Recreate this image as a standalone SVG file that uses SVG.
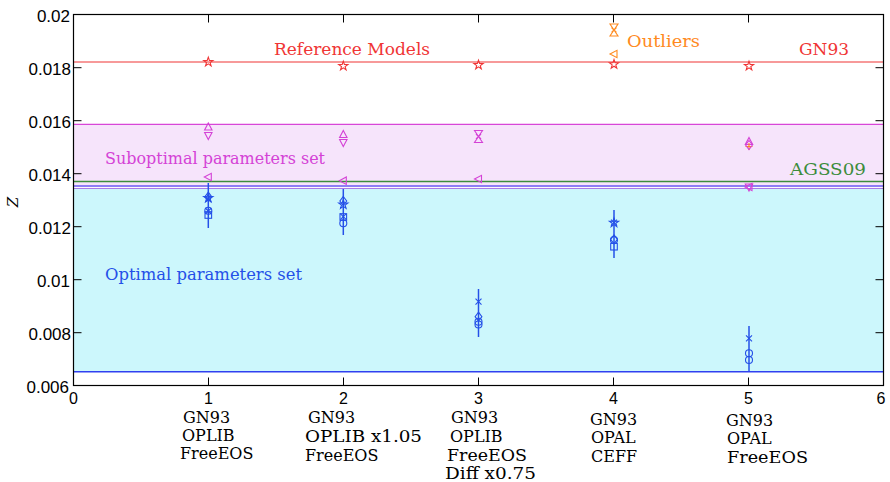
<svg xmlns="http://www.w3.org/2000/svg" xmlns:xlink="http://www.w3.org/1999/xlink" width="890" height="482" viewBox="0 0 890 482">
  <style>
    .ax { font-family: "Liberation Sans", Arial, sans-serif; font-size: 17px; fill: #000; }
    .xt { font-family: "Liberation Sans", Arial, sans-serif; font-size: 16px; fill: #000; }
    .cat { font-family: "DejaVu Serif", "Liberation Serif", serif; font-size: 16px; fill: #000; }
    .lbl { font-family: "DejaVu Serif", "Liberation Serif", serif; font-size: 17px; }
    .mk { fill: none; stroke-width: 1.1; }
    .red { stroke: #f03535; }
    .mag { stroke: #d442d6; }
    .org { stroke: #ff8a1e; }
    .blu { stroke: #2450e8; }
    .tick { stroke: #000; stroke-width: 1; }
  </style>
  <defs>
    <path id="star" d="M0,-4.8 L1.1,-1.5 L4.6,-1.5 L1.8,0.6 L2.8,3.9 L0,1.9 L-2.8,3.9 L-1.8,0.6 L-4.6,-1.5 L-1.1,-1.5Z"/>
    <path id="triU" d="M0,-4 L3.7,3 L-3.7,3Z"/>
    <path id="triD" d="M0,4 L3.7,-3 L-3.7,-3Z"/>
    <path id="triL" d="M-4,0 L3,-3.7 L3,3.7Z"/>
    <path id="dia" d="M0,-4.5 L3.4,0 L0,4.5 L-3.4,0Z"/>
    <circle id="cir" r="3.5"/>
    <rect id="sq" x="-3.3" y="-3.3" width="6.6" height="6.6"/>
    <path id="xx" d="M-3,-3 L3,3 M-3,3 L3,-3"/>
    <path id="pl" d="M-3.5,0 L3.5,0 M0,-3.5 L0,3.5"/>
    <!-- hourglass: downward triangle above an upward one -->
    <path id="hg" d="M-4,-6 L4,-6 L0,0Z M-4,6 L4,6 L0,0Z M-2.5,-2.5 L2.5,2.5 M-2.5,2.5 L2.5,-2.5"/>
  </defs>

  <!-- parameter bands -->
  <g id="bands">
    <rect x="73.5" y="124.3" width="810" height="63" fill="#f6e4fb"/>
    <rect x="73.5" y="189" width="810" height="182.7" fill="#ccf7fc"/>
    <line x1="73.5" y1="124.3" x2="883.5" y2="124.3" stroke="#d846d8" stroke-width="1.2"/>
    <line x1="73.5" y1="181.5" x2="883.5" y2="181.5" stroke="#3c8c3c" stroke-width="1.3"/>
    <line x1="73.5" y1="186" x2="883.5" y2="186" stroke="#6a5cf2" stroke-width="1.4"/>
    <line x1="73.5" y1="188.5" x2="883.5" y2="188.5" stroke="#a87be6" stroke-width="1.1"/>
    <line x1="73.5" y1="371.7" x2="883.5" y2="371.7" stroke="#3040f0" stroke-width="1.4"/>
    <line x1="73.5" y1="62" x2="883.5" y2="62" stroke="#f03535" stroke-width="1.2"/>
  </g>

  <!-- axes frame and ticks -->
  <g id="axes">
    <rect x="73.5" y="14.5" width="810" height="371" fill="none" stroke="#000" stroke-width="1.2"/>
    <path class="tick" d="M73.5,67.7h8 M73.5,120.7h8 M73.5,173.7h8 M73.5,226.7h8 M73.5,279.7h8 M73.5,332.7h8
      M883.5,67.7h-8 M883.5,120.7h-8 M883.5,173.7h-8 M883.5,226.7h-8 M883.5,279.7h-8 M883.5,332.7h-8
      M208.5,14.5v8 M343.5,14.5v8 M478.5,14.5v8 M613.5,14.5v8 M748.5,14.5v8
      M208.5,385.5v-8 M343.5,385.5v-8 M478.5,385.5v-8 M613.5,385.5v-8 M748.5,385.5v-8"/>
    <g class="ax" text-anchor="end">
      <text x="70" y="21.5">0.02</text>
      <text x="71" y="74.5">0.018</text>
      <text x="71" y="127.5">0.016</text>
      <text x="71" y="180.5">0.014</text>
      <text x="71" y="233.5">0.012</text>
      <text x="70" y="286.5">0.01</text>
      <text x="71" y="339.5">0.008</text>
      <text x="69" y="392.5">0.006</text>
    </g>
    <g class="xt" text-anchor="middle">
      <text x="73.5" y="404">0</text>
      <text x="208.5" y="404">1</text>
      <text x="343.5" y="404">2</text>
      <text x="478.5" y="404">3</text>
      <text x="613.5" y="404">4</text>
      <text x="748.5" y="404">5</text>
      <text x="881" y="404">6</text>
    </g>
    <text x="0" y="0" transform="translate(18,202) rotate(-90)" text-anchor="middle" style="font-family:'DejaVu Serif','Liberation Serif',serif;font-size:15px;font-style:italic">Z</text>
  </g>

  <!-- category labels -->
  <g id="categories" class="cat">
    <text x="183" y="423">GN93</text>
    <text x="182" y="441">OPLIB</text>
    <text x="180" y="459">FreeEOS</text>
    <text x="308" y="423">GN93</text>
    <text x="305" y="442" textLength="117" lengthAdjust="spacingAndGlyphs">OPLIB x1.05</text>
    <text x="305" y="461">FreeEOS</text>
    <text x="451" y="423">GN93</text>
    <text x="450" y="442">OPLIB</text>
    <text x="447" y="461" textLength="80" lengthAdjust="spacingAndGlyphs">FreeEOS</text>
    <text x="445" y="479" textLength="91" lengthAdjust="spacingAndGlyphs">Diff x0.75</text>
    <text x="590" y="425">GN93</text>
    <text x="591" y="443">OPAL</text>
    <text x="591" y="462">CEFF</text>
    <text x="726" y="426">GN93</text>
    <text x="727" y="444">OPAL</text>
    <text x="727" y="463" textLength="81" lengthAdjust="spacingAndGlyphs">FreeEOS</text>
  </g>

  <!-- band and line labels -->
  <g id="labels" class="lbl">
    <text x="274" y="55" fill="#f03535">Reference Models</text>
    <text x="799" y="55" fill="#f03535">GN93</text>
    <text x="627" y="47" fill="#ff8a1e" textLength="73" lengthAdjust="spacingAndGlyphs">Outliers</text>
    <text x="105" y="163.5" fill="#d442d6" textLength="220" lengthAdjust="spacingAndGlyphs">Suboptimal parameters set</text>
    <text x="790" y="175" fill="#3c8c3c" textLength="76" lengthAdjust="spacingAndGlyphs">AGSS09</text>
    <text x="105" y="280" fill="#2450e8" textLength="197" lengthAdjust="spacingAndGlyphs">Optimal parameters set</text>
  </g>

  <!-- error bars -->
  <g id="connectors" stroke="#2450e8" stroke-width="1.5">
    <line x1="208.3" y1="183" x2="208.3" y2="228"/>
    <line x1="343.3" y1="189" x2="343.3" y2="235"/>
    <line x1="478.5" y1="289" x2="478.5" y2="337"/>
    <line x1="614" y1="210" x2="614" y2="258"/>
    <line x1="749" y1="326" x2="749" y2="371"/>
  </g>

  <!-- model 1 -->
  <g id="model1" class="mk">
    <use href="#star" x="208.3" y="62" class="red"/>
    <use href="#triU" x="208.3" y="127" class="mag"/>
    <use href="#triD" x="208.3" y="135.5" class="mag"/>
    <use href="#triL" x="208.3" y="177" class="mag"/>
    <use href="#dia" x="208.3" y="196.7" class="blu"/>
    <use href="#xx" x="208.3" y="199" class="blu"/>
    <use href="#star" x="208.3" y="198" class="blu"/>
    <use href="#cir" x="208.3" y="210.7" class="blu"/>
    <use href="#xx" x="208.3" y="211" class="blu"/>
    <use href="#sq" x="208.3" y="215" class="blu"/>
  </g>

  <!-- model 2 -->
  <g id="model2" class="mk">
    <use href="#star" x="343.3" y="66" class="red"/>
    <use href="#triU" x="343.3" y="134.5" class="mag"/>
    <use href="#triD" x="343.3" y="142.5" class="mag"/>
    <use href="#triL" x="343.3" y="180.7" class="mag"/>
    <use href="#dia" x="343.3" y="201" class="blu"/>
    <use href="#star" x="343.3" y="204.5" class="blu"/>
    <use href="#xx" x="343.3" y="216.7" class="blu"/>
    <use href="#sq" x="343.3" y="217" class="blu"/>
    <use href="#cir" x="343.3" y="223.3" class="blu"/>
  </g>

  <!-- model 3 -->
  <g id="model3" class="mk">
    <use href="#star" x="478.5" y="65" class="red"/>
    <use href="#hg" x="478.5" y="136.5" class="mag"/>
    <use href="#triL" x="478.5" y="179" class="mag"/>
    <use href="#xx" x="478.5" y="301.7" class="blu"/>
    <use href="#dia" x="478.5" y="316.7" class="blu"/>
    <use href="#cir" x="478.5" y="321.7" class="blu"/>
    <use href="#cir" x="478.5" y="324.5" class="blu"/>
  </g>

  <!-- model 4 -->
  <g id="model4" class="mk">
    <use href="#hg" x="614" y="30" class="org"/>
    <use href="#triL" x="614" y="54" class="org"/>
    <use href="#star" x="614" y="64.3" class="red"/>
    <use href="#xx" x="614" y="222.7" class="blu"/>
    <use href="#star" x="614" y="222.7" class="blu"/>
    <use href="#dia" x="614" y="239.3" class="blu"/>
    <use href="#cir" x="614" y="240" class="blu"/>
    <use href="#sq" x="614" y="246.7" class="blu"/>
  </g>

  <!-- model 5 -->
  <g id="model5" class="mk">
    <use href="#star" x="749" y="66" class="red"/>
    <use href="#triU" x="749" y="141.5" class="mag"/>
    <use href="#pl" x="749" y="146.5" class="org"/>
    <use href="#dia" x="749" y="145" class="mag"/>
    <use href="#triD" x="749" y="187" class="mag"/>
    <use href="#triL" x="749" y="187" class="mag"/>
    <use href="#xx" x="749" y="338.3" class="blu"/>
    <use href="#cir" x="749" y="353.3" class="blu"/>
    <use href="#cir" x="749" y="360" class="blu"/>
  </g>
</svg>
